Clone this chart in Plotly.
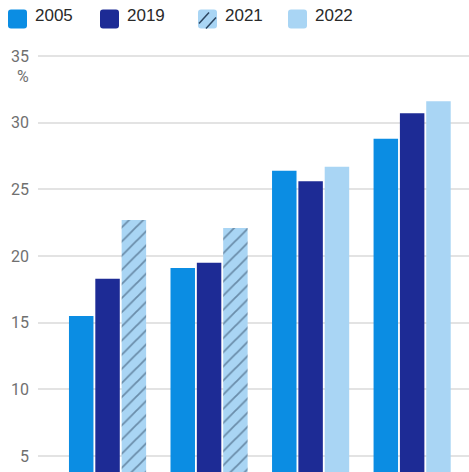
import plotly.graph_objects as go

# Data
categories = ["A", "B", "C", "D"]
years = ["2005", "2019", "2021", "2022"]
v2005 = [15.5, 19.1, 26.4, 28.8]
v2019 = [18.3, 19.5, 25.6, 30.7]
v2021 = [22.7, 22.1, None, None]
v2022 = [None, None, 26.7, 31.6]
y_ticks = [5, 10, 15, 20, 25, 30, 35]

C2005 = "#0b8de3"
C2019 = "#1d2b95"
C_LIGHT = "#a9d5f4"
C_HATCH = "#2c4560"

W, H = 469, 472
ML = 38  # left margin in px


def px_x(p):
    return (p - ML) / (W - ML)


def px_y(p):
    return 1 - p / H


fig = go.Figure()
fig.add_trace(go.Bar(x=categories, y=v2005, name="2005", marker_color=C2005,
                     marker_line_width=0, offsetgroup="a"))
fig.add_trace(go.Bar(x=categories, y=v2019, name="2019", marker_color=C2019,
                     marker_line_width=0, offsetgroup="b"))
fig.add_trace(go.Bar(x=categories, y=v2021, name="2021",
                     marker=dict(color=C_LIGHT, line_width=0,
                                 pattern=dict(shape="/", fgcolor=C_HATCH, bgcolor=C_LIGHT,
                                              size=10, solidity=0.18)),
                     offsetgroup="c"))
fig.add_trace(go.Bar(x=categories, y=v2022, name="2022", marker_color=C_LIGHT,
                     marker_line_width=0, offsetgroup="c"))

# Custom legend along the top
shapes = []
annotations = []
legend_x = [8, 100, 198, 288]
legend_colors = [C2005, C2019, C_LIGHT, C_LIGHT]
sq = 19
r = 3
for i, (yr, lx, col) in enumerate(zip(years, legend_x, legend_colors)):
    x0, x1 = lx, lx + sq
    y0, y1 = 9.5, 9.5 + sq
    path = (f"M {px_x(x0 + r)},{px_y(y0)} L {px_x(x1 - r)},{px_y(y0)} "
            f"Q {px_x(x1)},{px_y(y0)} {px_x(x1)},{px_y(y0 + r)} "
            f"L {px_x(x1)},{px_y(y1 - r)} Q {px_x(x1)},{px_y(y1)} {px_x(x1 - r)},{px_y(y1)} "
            f"L {px_x(x0 + r)},{px_y(y1)} Q {px_x(x0)},{px_y(y1)} {px_x(x0)},{px_y(y1 - r)} "
            f"L {px_x(x0)},{px_y(y0 + r)} Q {px_x(x0)},{px_y(y0)} {px_x(x0 + r)},{px_y(y0)} Z")
    shapes.append(dict(type="path", xref="paper", yref="paper", path=path,
                       fillcolor=col, line_width=0, layer="above"))
    if yr == "2021":
        for (ax, ay, bx, by) in [(x0 + 1, y0 + 14, x0 + 11, y0 + 3),
                                 (x0 + 8, y1, x0 + 18, y0 + 8)]:
            shapes.append(dict(type="line", xref="paper", yref="paper",
                               x0=px_x(ax), y0=px_y(ay), x1=px_x(bx), y1=px_y(by),
                               line=dict(color=C_HATCH, width=1.5), layer="above"))
    annotations.append(dict(x=px_x(x1 + 6), y=px_y(15.5), xref="paper", yref="paper",
                            text=yr, showarrow=False, xanchor="left", yanchor="middle",
                            font=dict(size=17, color="#2a2a2a",
                                      family="Liberation Sans, Arial, sans-serif")))

# Unit label below the top tick
annotations.append(dict(x=px_x(31), y=px_y(76), xref="paper", yref="paper", text="%",
                        showarrow=False, xanchor="right", yanchor="middle",
                        font=dict(size=16, color="#707070",
                                  family="Liberation Sans Narrow, Roboto, sans-serif")))

y_bottom = 3.80
y_top = 39.2

fig.update_layout(
    width=W, height=H,
    margin=dict(l=ML, r=0, t=0, b=0),
    paper_bgcolor="white", plot_bgcolor="white",
    barmode="group", bargap=0.222, bargroupgap=0.07,
    showlegend=False,
    shapes=shapes, annotations=annotations,
    xaxis=dict(range=[-0.685, 3.56], showticklabels=False, showgrid=False,
               zeroline=False, showline=False, ticks=""),
    yaxis=dict(range=[y_bottom, y_top], tickvals=y_ticks, ticktext=[str(t) for t in y_ticks],
               showgrid=True, gridcolor="#e3e3e3", gridwidth=1.5, zeroline=False,
               showline=False, ticks="", ticklabelstandoff=8,
               tickfont=dict(size=16, color="#707070",
                             family="Liberation Sans Narrow, Roboto, sans-serif")),
)

fig.write_html("out.html")
